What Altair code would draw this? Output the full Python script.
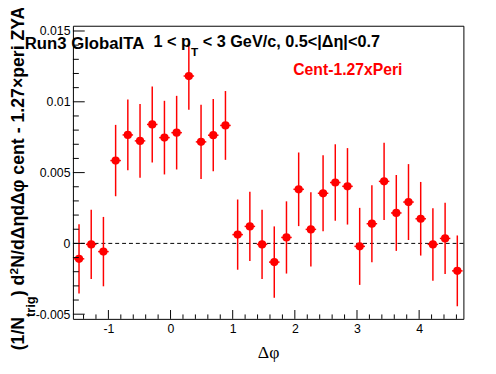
import altair as alt
import numpy as np
import pandas as pd

# ---- data (32 bins over -pi/2 .. 3pi/2) ----
n_bins = 32
phi_min = -np.pi / 2
phi_max = 3 * np.pi / 2
bin_w = (phi_max - phi_min) / n_bins
phi_centers = phi_min + (np.arange(n_bins) + 0.5) * bin_w

y_vals = [-0.00109, -0.00007, -0.00058, 0.00585, 0.00766, 0.00724, 0.00840, 0.00747,
          0.00782, 0.01182, 0.00717, 0.00764, 0.00833, 0.00062, 0.00120, -0.00007,
          -0.00132, 0.00042, 0.00382, 0.00099, 0.00354, 0.00430, 0.00403, -0.00021,
          0.00139, 0.00438, 0.00215, 0.00292, 0.00174, -0.00007, 0.00035, -0.00194]
y_errs = [0.00245, 0.00245, 0.00245, 0.00252, 0.00250, 0.00260, 0.00268, 0.00260,
          0.00260, 0.00238, 0.00262, 0.00255, 0.00243, 0.00248, 0.00245, 0.00245,
          0.00252, 0.00255, 0.00260, 0.00262, 0.00268, 0.00270, 0.00270, 0.00272,
          0.00272, 0.00272, 0.00268, 0.00268, 0.00260, 0.00256, 0.00252, 0.00250]

x_major = [-1, 0, 1, 2, 3, 4]
x_minor = [-1.4, -1.2, -0.8, -0.6, -0.4, -0.2, 0.2, 0.4, 0.6, 0.8, 1.2, 1.4, 1.6, 1.8,
           2.2, 2.4, 2.6, 2.8, 3.2, 3.4, 3.6, 3.8, 4.2, 4.4, 4.6]
y_major = [-0.005, 0, 0.005, 0.01, 0.015]
y_minor = [-0.004, -0.003, -0.002, -0.001, 0.001, 0.002, 0.003, 0.004, 0.006, 0.007,
           0.008, 0.009, 0.011, 0.012, 0.013, 0.014]

df = pd.DataFrame({"phi": phi_centers, "y": y_vals, "err": y_errs})
df["lo"] = df["y"] - df["err"]
df["hi"] = df["y"] + df["err"]
half = 0.43 * bin_w
df["xlo"] = df["phi"] - half
df["xhi"] = df["phi"] + half

W, H = 397, 298
RED = "#ff0000"
FONT = "Liberation Sans"

xscale = alt.Scale(domain=[phi_min, phi_max], nice=False, zero=False)
yscale = alt.Scale(domain=[-0.00533, 0.01537], nice=False, zero=False)
minus_fix = "replace(format(datum.value, '~g'), '\u2212', '-')"

x_axis = alt.Axis(values=x_major, ticks=False, tickSize=0, domain=False, grid=False,
                  labelFont=FONT, labelFontSize=12.5, labelColor="black", labelPadding=4,
                  labelExpr=minus_fix, titleFont="Liberation Serif", titleFontSize=18,
                  titleFontWeight="normal", titleColor="black", titlePadding=9)
y_axis = alt.Axis(values=y_major, ticks=False, tickSize=0, domain=False, grid=False,
                  labelFont=FONT, labelFontSize=12.5, labelColor="black", labelPadding=3,
                  labelExpr=minus_fix)


def X(field):
    return alt.X(field, type="quantitative", scale=xscale, axis=x_axis, title="Δφ")


def Y(field):
    return alt.Y(field, type="quantitative", scale=yscale, axis=y_axis, title=None)


base = alt.Chart(df)

zero_line = alt.Chart(pd.DataFrame({"z": [0.0]})).mark_rule(
    color="black", strokeWidth=1, strokeDash=[4, 3]).encode(y=Y("z"))

vbars = base.mark_rule(color=RED, strokeWidth=1.5).encode(x=X("phi"), y=Y("lo"), y2="hi")
hbars = base.mark_rule(color=RED, strokeWidth=1.5).encode(x=X("xlo"), x2="xhi", y=Y("y"))
pts = base.mark_circle(color=RED, size=70, opacity=1).encode(x=X("phi"), y=Y("y"))

xt_major = alt.Chart(pd.DataFrame({"t": x_major})).mark_rule(color="black").encode(
    x=X("t"), y=alt.value(H), y2=alt.value(H - 9))
xt_minor = alt.Chart(pd.DataFrame({"t": x_minor})).mark_rule(color="black").encode(
    x=X("t"), y=alt.value(H), y2=alt.value(H - 4.5))
yt_major = alt.Chart(pd.DataFrame({"t": y_major})).mark_rule(color="black").encode(
    y=Y("t"), x=alt.value(0), x2=alt.value(12))
yt_minor = alt.Chart(pd.DataFrame({"t": y_minor})).mark_rule(color="black").encode(
    y=Y("t"), x=alt.value(0), x2=alt.value(6))


def label(text, x, y, size, color="black", weight="bold", font=FONT, angle=0):
    kw = dict(align="left", baseline="alphabetic", font=font, fontSize=size,
              fontWeight=weight, color=color)
    if angle:
        kw["angle"] = angle
    return alt.Chart(pd.DataFrame({"t": [text]})).mark_text(**kw).encode(
        text="t:N", x=alt.value(x), y=alt.value(y))


texts = [
    label("Run3 GlobalTA", -49, 23.7, 17),
    label("1 < p", 82, 22, 16.5),
    label("T", 120, 31, 12),
    label("< 3 GeV/c, 0.5<|Δη|<0.7", 132, 22, 16.5),
    label("Cent-1.27xPeri", 224, 50.3, 16, color=RED),
    # rotated y-axis title pieces
    label("(1/N", -49.5, 330, 18, angle=270),
    label("trig", -38.5, 296, 13, angle=270),
    label(") d", -49.5, 275, 18, angle=270),
    label("2", -55.5, 253, 12, angle=270),
    label("N/dΔηdΔφ cent - 1.27×peri ZYAMed", -49.5, 246, 18, angle=270),
]

chart = alt.layer(zero_line, vbars, hbars, pts, xt_major, xt_minor, yt_major, yt_minor,
                  *texts).properties(
    width=W, height=H,
    autosize=alt.AutoSizeParams(type="none"),
    padding={"left": 66, "top": 15, "right": 25, "bottom": 53},
    background="white",
).configure_view(stroke="black", strokeWidth=1)

chart.save("out.html", embed_options={"renderer": "svg", "actions": False})
